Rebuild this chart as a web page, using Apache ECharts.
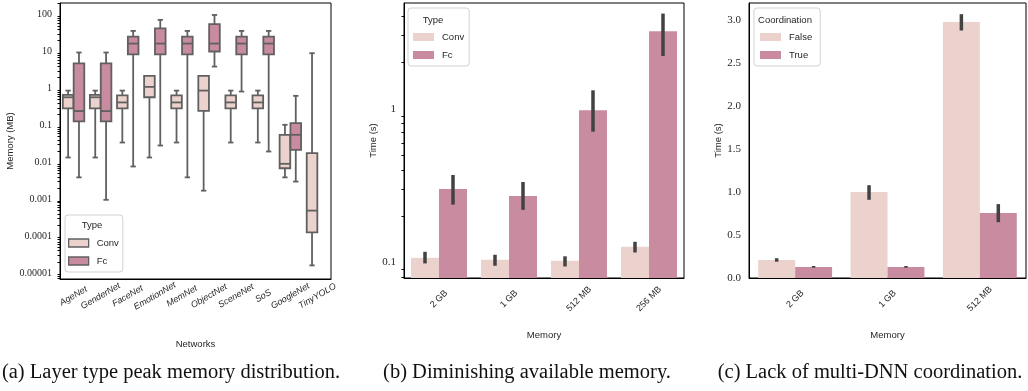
<!DOCTYPE html>
<html>
<head>
<meta charset="utf-8">
<script src="https://cdn.jsdelivr.net/npm/echarts@6.0.0/dist/echarts.min.js"></script>
<style>
html,body{margin:0;padding:0;background:#fff;}
#chart{width:1028px;height:391px;}
</style>
</head>
<body>
<div id="chart"></div>
<script>
// ---------- data ----------
const NETWORKS = ['AgeNet','GenderNet','FaceNet','EmotionNet','MemNet','ObjectNet','SceneNet','SoS','GoogleNet','TinyYOLO'];
// [min, q1, median, q3, max] in MB
const CONV_BOX = [
  [0.0135, 0.29, 0.58, 0.67, 0.88],
  [0.0135, 0.29, 0.58, 0.67, 0.88],
  [0.0344, 0.29, 0.42, 0.65, 0.88],
  [0.0135, 0.58, 1.11, 2.2, 2.2],
  [0.0344, 0.29, 0.42, 0.65, 0.88],
  [0.0017, 0.249, 0.88, 2.2, 2.2],
  [0.0344, 0.29, 0.42, 0.65, 0.88],
  [0.0344, 0.29, 0.42, 0.65, 0.88],
  [0.0039, 0.0069, 0.0091, 0.0556, 0.104],
  [0.000016, 0.000126, 0.00049, 0.0177, 9.1]
];
const FC_BOX = [
  [0.0039, 0.128, 0.245, 4.8, 9.5],
  [0.00096, 0.128, 0.245, 4.8, 9.5],
  [0.0077, 8.4, 16.6, 25.7, 36.6],
  [0.0285, 8.4, 16.6, 43, 72.9],
  [0.0039, 8.4, 16.6, 25.7, 36.6],
  [3.95, 10.1, 16.6, 55.6, 99],
  [0.83, 8.4, 16.6, 25.7, 36.6],
  [0.0196, 8.4, 16.6, 25.7, 36.6],
  [0.003, 0.0218, 0.0556, 0.115, 0.634],
  null
];
const A_TICKS = [0.00001, 0.0001, 0.001, 0.01, 0.1, 1, 10, 100];
const A_TICK_LABELS = ['0.00001', '0.0001', '0.001', '0.01', '0.1', '1', '10', '100'];

const MEM_B = ['2 GB', '1 GB', '512 MB', '256 MB'];
const CONV_TIME = [0.1066, 0.1035, 0.102, 0.1258];
const CONV_ERR = [[0.098, 0.1167], [0.0946, 0.1116], [0.0936, 0.109], [0.1155, 0.1356]];
const FC_TIME = [0.30, 0.270, 0.98, 3.2];
const FC_ERR = [[0.237, 0.37], [0.219, 0.333], [0.709, 1.32], [2.21, 4.18]];
const B_TICKS = [0.1, 1];
const B_TICK_LABELS = ['0.1', '1'];

const MEM_C = ['2 GB', '1 GB', '512 MB'];
const FALSE_TIME = [0.21, 1.0, 2.98];
const FALSE_ERR = [[0.19, 0.23], [0.91, 1.08], [2.88, 3.07]];
const TRUE_TIME = [0.128, 0.128, 0.756];
const TRUE_ERR = [[0.12, 0.14], [0.12, 0.14], [0.65, 0.86]];
const C_TICKS = [0, 0.5, 1.0, 1.5, 2.0, 2.5, 3.0];

// ---------- style ----------
const CONV = '#ecd2cc';
const FC = '#c98ba0';
const GRAY = '#606060';
const ERR = '#424242';
const TXT = '#262626';
const SANS = '"Liberation Sans", Arial, sans-serif';
const SERIF = '"Liberation Serif", "Times New Roman", serif';

const A_MIN = 6.84e-6, A_MAX = 209;
const B_MIN = 0.0787, B_MAX = 4.9;

function minorLog(lo, hi) {
  const out = [];
  for (let e = -7; e <= 3; e++) {
    for (let k = 2; k <= 9; k++) {
      const v = k * Math.pow(10, e);
      if (v > lo && v < hi) out.push(v);
    }
  }
  return out;
}
function labelFrom(ticks, labels) {
  return function (v) {
    for (let i = 0; i < ticks.length; i++) {
      if (Math.abs(Math.log10(v) - Math.log10(ticks[i])) < 1e-6) return labels[i];
    }
    return '';
  };
}

function boxRender(sign, fill) {
  return function (params, api) {
    const c = api.value(0);
    const band = api.size([1, 1], [c, 1])[0];
    const cx = api.coord([c, api.value(3)])[0] + sign * band * 0.2;
    const w = band * 0.4 * 0.98;
    const y = k => api.coord([c, api.value(k)])[1];
    const yMin = y(1), yQ1 = y(2), yMed = y(3), yQ3 = y(4), yMax = y(5);
    const st = { stroke: GRAY, lineWidth: 1.8 };
    return {
      type: 'group',
      children: [
        { type: 'line', shape: { x1: cx, y1: yQ1, x2: cx, y2: yMin }, style: st },
        { type: 'line', shape: { x1: cx, y1: yQ3, x2: cx, y2: yMax }, style: st },
        { type: 'line', shape: { x1: cx - w / 4, y1: yMin, x2: cx + w / 4, y2: yMin }, style: st },
        { type: 'line', shape: { x1: cx - w / 4, y1: yMax, x2: cx + w / 4, y2: yMax }, style: st },
        { type: 'rect', shape: { x: cx - w / 2, y: yQ3, width: w, height: yQ1 - yQ3 }, style: { fill: fill, stroke: GRAY, lineWidth: 1.8 } },
        { type: 'line', shape: { x1: cx - w / 2, y1: yMed, x2: cx + w / 2, y2: yMed }, style: st }
      ]
    };
  };
}
function errRender(sign) {
  return function (params, api) {
    const c = api.value(0);
    const band = api.size([1, 1], [c, 1])[0];
    const p1 = api.coord([c, api.value(1)]);
    const p2 = api.coord([c, api.value(2)]);
    const x = p1[0] + sign * band * 0.2;
    return { type: 'line', shape: { x1: x, y1: p1[1], x2: x, y2: p2[1] }, style: { stroke: ERR, lineWidth: 3.5 } };
  };
}
function boxData(arr) {
  const out = [];
  arr.forEach((b, i) => { if (b) out.push([i].concat(b)); });
  return out;
}
function errData(arr) { return arr.map((e, i) => [i, e[0], e[1]]); }

const tickLine = { lineStyle: { color: '#000', width: 1 } };
const axisLine = { show: true, lineStyle: { color: '#000', width: 1 } };
const hiddenLine = { show: true, lineStyle: { color: 'rgba(0,0,0,0)', width: 1 } };
const nameStyle = { fontFamily: SANS, fontSize: 9.5, color: TXT };

function legendCfg(left, top, names, colors, padding, itemWidth, border) {
  return {
    left: left, top: top, orient: 'vertical',
    itemWidth: itemWidth, itemHeight: 8, itemGap: 6,
    padding: padding,
    backgroundColor: 'rgba(255,255,255,0.85)',
    borderColor: '#d2d2d2', borderWidth: 1, borderRadius: 3,
    textStyle: { fontFamily: SANS, fontSize: 9.5, color: TXT, lineHeight: 12, padding: [0, 0, 0, 3] },
    data: names.map((n, i) => ({
      name: n, icon: 'rect',
      itemStyle: border ? { color: colors[i], borderColor: GRAY, borderWidth: 1.3 } : { color: colors[i], borderWidth: 0 }
    })),
    selectedMode: false
  };
}

const chart = echarts.init(document.getElementById('chart'), null, { renderer: 'canvas' });
const option = {
  animation: false,
  backgroundColor: '#fff',
  grid: [
    { left: 60, top: 3, width: 271, height: 276, show: true, borderColor: '#000', borderWidth: 1 },
    { left: 404, top: 3, width: 280, height: 275, show: true, borderColor: '#000', borderWidth: 1 },
    { left: 749, top: 3, width: 277, height: 275, show: true, borderColor: '#000', borderWidth: 1 }
  ],
  xAxis: [
    {
      gridIndex: 0, type: 'category', data: NETWORKS,
      axisLine: axisLine,
      axisTick: Object.assign({ alignWithLabel: true, length: 4 }, tickLine),
      axisLabel: { rotate: 30, align: 'center', verticalAlign: 'middle', margin: 17, fontFamily: SANS, fontStyle: 'italic', fontSize: 9, color: TXT, interval: 0 },
      name: 'Networks', nameLocation: 'middle', nameGap: 60, nameTextStyle: nameStyle
    },
    {
      gridIndex: 1, type: 'category', data: MEM_B,
      axisLine: axisLine,
      axisTick: Object.assign({ alignWithLabel: true, length: 4 }, tickLine),
      axisLabel: { rotate: 45, align: 'center', verticalAlign: 'middle', margin: 21, fontFamily: SANS, fontSize: 9, color: TXT, interval: 0 },
      name: 'Memory', nameLocation: 'middle', nameGap: 52, nameTextStyle: nameStyle
    },
    {
      gridIndex: 2, type: 'category', data: MEM_C,
      axisLine: axisLine,
      axisTick: Object.assign({ alignWithLabel: true, length: 4 }, tickLine),
      axisLabel: { rotate: 45, align: 'center', verticalAlign: 'middle', margin: 21, fontFamily: SANS, fontSize: 9, color: TXT, interval: 0 },
      name: 'Memory', nameLocation: 'middle', nameGap: 52, nameTextStyle: nameStyle
    }
  ],
  yAxis: [
    {
      gridIndex: 0, type: 'log', logBase: 10, min: A_MIN, max: A_MAX, position: 'left',
      axisLine: axisLine,
      axisTick: Object.assign({ length: 4, customValues: A_TICKS }, tickLine),
      axisLabel: { customValues: A_TICKS, formatter: labelFrom(A_TICKS, A_TICK_LABELS), fontFamily: SERIF, fontSize: 10, color: TXT, margin: 8 },
      splitLine: { show: false },
      name: 'Memory (MB)', nameLocation: 'middle', nameGap: 43, nameTextStyle: nameStyle
    },
    {
      gridIndex: 0, type: 'log', logBase: 10, min: A_MIN, max: A_MAX, position: 'left',
      axisLine: hiddenLine,
      axisTick: Object.assign({ show: true, length: 2.5, customValues: minorLog(A_MIN, A_MAX) }, tickLine),
      axisLabel: { show: false }, splitLine: { show: false }
    },
    {
      gridIndex: 1, type: 'log', logBase: 10, min: B_MIN, max: B_MAX, startValue: B_MIN, position: 'left',
      axisLine: axisLine,
      axisTick: Object.assign({ length: 4, customValues: B_TICKS }, tickLine),
      axisLabel: { customValues: B_TICKS, formatter: labelFrom(B_TICKS, B_TICK_LABELS), fontFamily: SERIF, fontSize: 11, color: TXT, margin: 8 },
      splitLine: { show: false },
      name: 'Time (s)', nameLocation: 'middle', nameGap: 25, nameTextStyle: nameStyle
    },
    {
      gridIndex: 1, type: 'log', logBase: 10, min: B_MIN, max: B_MAX, position: 'left',
      axisLine: hiddenLine,
      axisTick: Object.assign({ show: true, length: 2.5, customValues: minorLog(B_MIN, B_MAX) }, tickLine),
      axisLabel: { show: false }, splitLine: { show: false }
    },
    {
      gridIndex: 2, type: 'value', min: 0, max: 3.2, position: 'left',
      axisLine: axisLine,
      axisTick: Object.assign({ length: 4, customValues: C_TICKS }, tickLine),
      axisLabel: { customValues: C_TICKS, formatter: v => v.toFixed(1), fontFamily: SERIF, fontSize: 11, color: TXT, margin: 8 },
      splitLine: { show: false },
      name: 'Time (s)', nameLocation: 'middle', nameGap: 24, nameTextStyle: nameStyle
    }
  ],
  legend: [
    legendCfg(65, 215, ['Conv', 'Fc'], [CONV, FC], [22, 4, 5, 3], 20, true),
    legendCfg(408, 8, ['Conv', 'Fc'], [CONV, FC], [23, 5, 5, 5], 21, false),
    legendCfg(754, 8, ['False', 'True'], [CONV, FC], [23, 8, 5, 6], 21, false)
  ],
  graphic: [
    { type: 'text', z: 100, x: 92, y: 225, style: { text: 'Type', textAlign: 'center', textVerticalAlign: 'middle', font: '9.5px ' + SANS, fill: TXT } },
    { type: 'text', z: 100, x: 433, y: 20, style: { text: 'Type', textAlign: 'center', textVerticalAlign: 'middle', font: '9.5px ' + SANS, fill: TXT } },
    { type: 'text', z: 100, x: 785, y: 20, style: { text: 'Coordination', textAlign: 'center', textVerticalAlign: 'middle', font: '9.5px ' + SANS, fill: TXT } },
    { type: 'text', x: 171, y: 373, style: { text: '(a) Layer type peak memory distribution.', textAlign: 'center', textVerticalAlign: 'middle', font: '20.5px ' + SERIF, fill: '#111' } },
    { type: 'text', x: 527, y: 373, style: { text: '(b) Diminishing available memory.', textAlign: 'center', textVerticalAlign: 'middle', font: '20.5px ' + SERIF, fill: '#111' } },
    { type: 'text', x: 870, y: 373, style: { text: '(c) Lack of multi-DNN coordination.', textAlign: 'center', textVerticalAlign: 'middle', font: '20.5px ' + SERIF, fill: '#111' } }
  ],
  series: [
    { name: 'Conv', type: 'custom', xAxisIndex: 0, yAxisIndex: 0, renderItem: boxRender(-1, CONV), itemStyle: { color: CONV, borderColor: GRAY }, encode: { x: 0, y: [1, 2, 3, 4, 5] }, data: boxData(CONV_BOX) },
    { name: 'Fc', type: 'custom', xAxisIndex: 0, yAxisIndex: 0, renderItem: boxRender(1, FC), itemStyle: { color: FC, borderColor: GRAY }, encode: { x: 0, y: [1, 2, 3, 4, 5] }, data: boxData(FC_BOX) },

    { name: 'Conv', type: 'bar', xAxisIndex: 1, yAxisIndex: 2, barGap: '0%', barCategoryGap: '20%', itemStyle: { color: CONV }, data: CONV_TIME },
    { name: 'Fc', type: 'bar', xAxisIndex: 1, yAxisIndex: 2, barGap: '0%', barCategoryGap: '20%', itemStyle: { color: FC }, data: FC_TIME },
    { name: 'Conv CI', type: 'custom', xAxisIndex: 1, yAxisIndex: 2, z: 5, renderItem: errRender(-1), encode: { x: 0, y: [1, 2] }, data: errData(CONV_ERR) },
    { name: 'Fc CI', type: 'custom', xAxisIndex: 1, yAxisIndex: 2, z: 5, renderItem: errRender(1), encode: { x: 0, y: [1, 2] }, data: errData(FC_ERR) },

    { name: 'False', type: 'bar', xAxisIndex: 2, yAxisIndex: 4, barGap: '0%', barCategoryGap: '20%', itemStyle: { color: CONV }, data: FALSE_TIME },
    { name: 'True', type: 'bar', xAxisIndex: 2, yAxisIndex: 4, barGap: '0%', barCategoryGap: '20%', itemStyle: { color: FC }, data: TRUE_TIME },
    { name: 'False CI', type: 'custom', xAxisIndex: 2, yAxisIndex: 4, z: 5, renderItem: errRender(-1), encode: { x: 0, y: [1, 2] }, data: errData(FALSE_ERR) },
    { name: 'True CI', type: 'custom', xAxisIndex: 2, yAxisIndex: 4, z: 5, renderItem: errRender(1), encode: { x: 0, y: [1, 2] }, data: errData(TRUE_ERR) }
  ]
};
chart.setOption(option);
</script>
</body>
</html>
